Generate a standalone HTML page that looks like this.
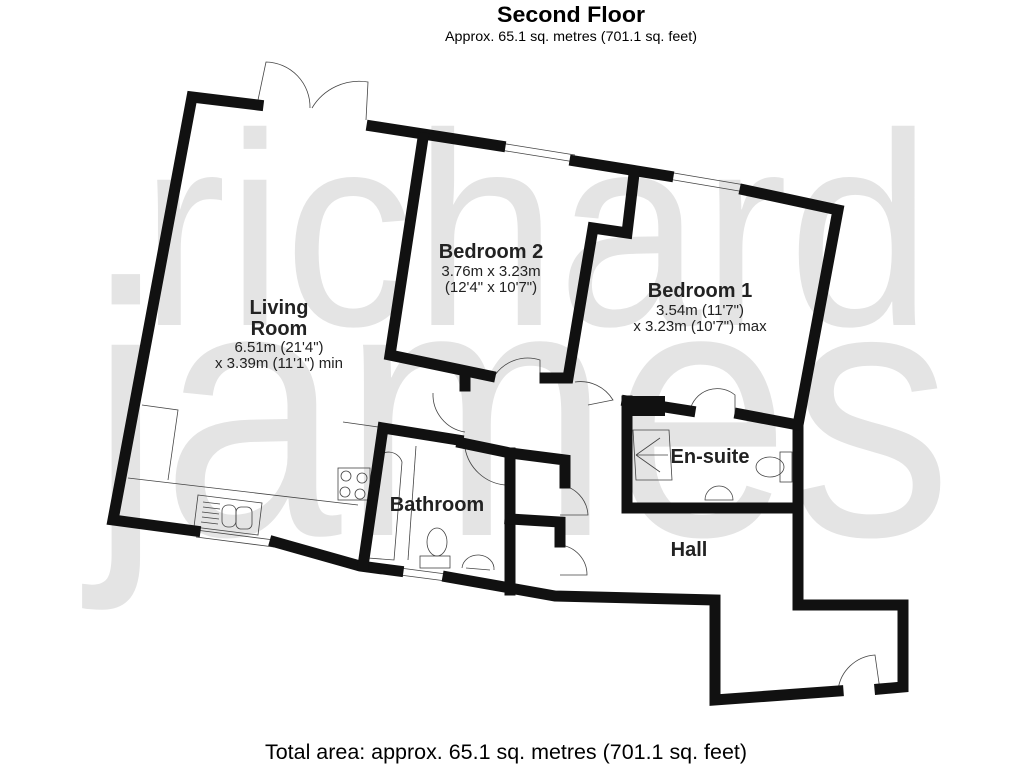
<!DOCTYPE html>
<html><head><meta charset="utf-8"><style>
html,body{margin:0;padding:0;background:#fff;}
svg{display:block;}
text{font-family:"Liberation Sans",sans-serif;}
</style></head><body>
<svg width="1024" height="768" viewBox="0 0 1024 768" xmlns="http://www.w3.org/2000/svg">
<rect width="1024" height="768" fill="#fff"/>
<!-- watermark -->
<g fill="#e4e4e4">
<text x="140" y="325" font-size="275" textLength="792" lengthAdjust="spacingAndGlyphs">richard</text>
<text x="90" y="535" font-size="360" textLength="862" lengthAdjust="spacingAndGlyphs">james</text>
</g>
<!-- titles -->
<text x="571" y="22" font-size="22" font-weight="bold" text-anchor="middle" textLength="148" lengthAdjust="spacingAndGlyphs">Second Floor</text>
<text x="571" y="41" font-size="14" text-anchor="middle" textLength="252" lengthAdjust="spacingAndGlyphs">Approx. 65.1 sq. metres (701.1 sq. feet)</text>
<text x="506" y="759" font-size="21" text-anchor="middle" textLength="482" lengthAdjust="spacingAndGlyphs">Total area: approx. 65.1 sq. metres (701.1 sq. feet)</text>

<!-- thin fixtures -->
<g fill="none" stroke="#444" stroke-width="0.8">
<path d="M258 100 L266 62 A45 45 0 0 1 310 108"/>
<path d="M366 120 L368 82 A55 55 0 0 0 312 108"/>
<path d="M500 143 L575 155 M500 150 L575 162"/>
<path d="M668 172 L745 185 M668 179 L745 192"/>
<path d="M196 530 L274 540 M196 537 L274 547"/>
<path d="M400 568 L446 574 M400 575 L446 581"/>
<path d="M142 405 L178 410 L168 480"/>
<path d="M128 478 L358 505"/>
<path d="M343 422 L378 427 L370 516"/>
<rect x="338" y="468" width="32" height="32"/>
<circle cx="346" cy="476" r="5"/><circle cx="362" cy="478" r="5"/><circle cx="345" cy="492" r="5"/><circle cx="360" cy="494" r="5"/>
<path d="M198 495 L262 503 L258 535 L194 527 Z"/>
<rect x="222" y="505" width="14" height="22" rx="6"/><rect x="236" y="507" width="16" height="22" rx="5"/>
<path d="M203 502 L220 504 M203 507 L220 509 M202 512 L219 514 M202 517 L219 519 M201 522 L218 524"/>
<path d="M368 558 L376 460 A14 14 0 0 1 402 462 L394 560 Z"/>
<path d="M408 560 L416 446"/>
<ellipse cx="437" cy="542" rx="10" ry="14"/>
<rect x="420" y="556" width="30" height="12"/>
<path d="M462 568 A16 14 0 0 1 494 570"/>
<path d="M466 568 L490 570"/>
<path d="M465 448 A45 45 0 0 0 505 485 L510 455"/>
<path d="M433 393 A38 38 0 0 0 465 432"/>
<path d="M495 375 A40 40 0 0 1 540 360 L540 378"/>
<path d="M575 382 A38 38 0 0 1 613 400 L588 405"/>
<path d="M690 410 A28 28 0 0 1 735 395 L735 415"/>
<path d="M560 485 A32 32 0 0 1 588 515 L560 515"/>
<path d="M560 545 A30 30 0 0 1 587 575 L560 575"/>
<path d="M838 690 A40 40 0 0 1 875 655 L880 690"/>
<path d="M633 430 L669 430 L672 480 L636 480 Z"/>
<path d="M636 455 L660 438 M636 455 L660 472 M636 455 L668 455"/>
<path d="M705 500 A14 14 0 0 1 733 500 Z"/>
<ellipse cx="770" cy="467" rx="14" ry="10"/>
<rect x="780" y="452" width="12" height="30"/>
</g>

<!-- walls -->
<g fill="none" stroke="#111" stroke-width="11" stroke-linejoin="miter" stroke-linecap="square">
<polyline points="258,105 192,97 113,520 195,531"/>
<polyline points="275,542 360,566 398,571"/>
<polyline points="448,577 555,596 715,600 715,700 838,691"/>
<polyline points="880,689 903,687 903,605 798,605 798,425"/>
<polyline points="372,126 500,146"/>
<polyline points="575,161 668,176"/>
<polyline points="745,190 838,210 798,425 740,414"/>
<polyline points="423,138 390,355 490,376"/>
<polyline points="634,174 627,233 593,228 568,378 545,378"/>
<polyline points="627,401 690,411"/>
<polyline points="627,401 627,508 798,508"/>
<polyline points="458,440 383,428 363,566"/>
<polyline points="462,443 510,453 565,460 565,483"/>
<polyline points="510,453 510,590"/>
<polyline points="510,519 560,522 560,542"/>
<polyline points="465,380 465,386"/>
</g>
<rect x="627" y="396" width="38" height="20" fill="#111"/>

<!-- labels -->
<g text-anchor="middle" fill="#222">
<text x="279" y="314" font-size="20" font-weight="bold">Living</text>
<text x="279" y="335" font-size="20" font-weight="bold">Room</text>
<text x="279" y="352" font-size="15">6.51m (21'4")</text>
<text x="279" y="368" font-size="15">x 3.39m (11'1") min</text>
<text x="491" y="258" font-size="20" font-weight="bold">Bedroom 2</text>
<text x="491" y="276" font-size="15">3.76m x 3.23m</text>
<text x="491" y="292" font-size="15">(12'4" x 10'7")</text>
<text x="700" y="297" font-size="20" font-weight="bold">Bedroom 1</text>
<text x="700" y="315" font-size="15">3.54m (11'7")</text>
<text x="700" y="331" font-size="15">x 3.23m (10'7") max</text>
<text x="710" y="463" font-size="20" font-weight="bold">En-suite</text>
<text x="437" y="511" font-size="20" font-weight="bold">Bathroom</text>
<text x="689" y="556" font-size="20" font-weight="bold">Hall</text>
</g>
</svg>
</body></html>
